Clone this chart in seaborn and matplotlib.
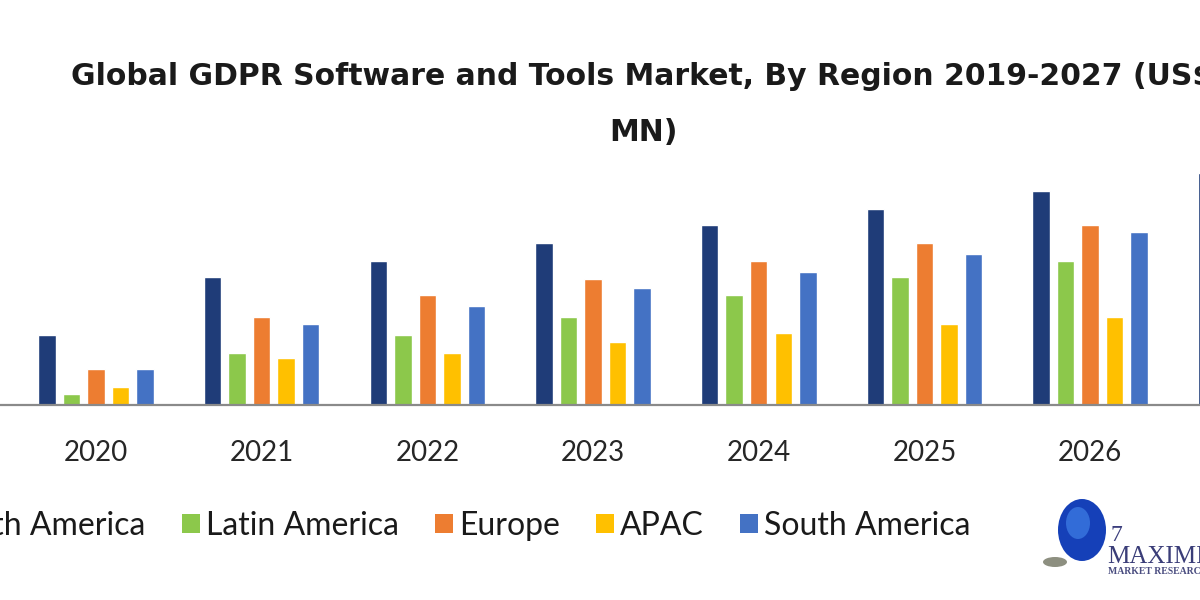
import numpy as np
import pandas as pd
import matplotlib
matplotlib.use("Agg")
import matplotlib.pyplot as plt
from matplotlib.patches import Ellipse, Rectangle
import seaborn as sns

# ---- data (relative units, no axis shown) ----
years = ["2020", "2021", "2022", "2023", "2024", "2025", "2026", "2027"]
regions = ["North America", "Latin America", "Europe", "APAC", "South America"]
north_america = [3.9, 7.1, 8.0, 9.0, 10.0, 10.9, 11.9, 12.9]
latin_america = [0.6, 2.9, 3.9, 4.9, 6.1, 7.1, 8.0, 9.0]
europe = [2.0, 4.9, 6.1, 7.0, 8.0, 9.0, 10.0, 10.9]
apac = [1.0, 2.6, 2.9, 3.5, 4.0, 4.5, 4.9, 5.4]
south_america = [2.0, 4.5, 5.5, 6.5, 7.4, 8.4, 9.6, 10.6]
colors = ["#1f3c78", "#8cc84b", "#ed7d31", "#ffc000", "#4472c4"]

series = [north_america, latin_america, europe, apac, south_america]
df = pd.DataFrame({
    "Year": [y for _ in regions for y in years],
    "Region": [r for r in regions for _ in years],
    "Value": [v for s in series for v in s],
})

sns.set_theme(style="white")
plt.rcParams["font.family"] = ["Lato", "DejaVu Sans"]

fig = plt.figure(figsize=(12, 6), dpi=100)
fig.patch.set_facecolor("white")
ax = fig.add_axes([0.0, 0.325, 1.0, 0.42])

sns.barplot(data=df, x="Year", y="Value", hue="Region", hue_order=regions,
            order=years, palette=colors, saturation=1, width=0.74, gap=0.287,
            legend=False, ax=ax)

ax.set_xlim(-0.579, 6.663)
ax.set_ylim(0, 14)
ax.set_yticks([])
ax.set_xlabel("")
ax.set_ylabel("")
for s in ["top", "right", "left"]:
    ax.spines[s].set_visible(False)
ax.spines["bottom"].set_color("#8a8a8a")
ax.spines["bottom"].set_linewidth(1.6)
ax.tick_params(axis="x", length=0, pad=25, labelsize=20, labelcolor="#262626")
ax.set_facecolor("white")

# ---- title (two lines, cut at the right edge as in the reference) ----
title_font = ["DejaVu Sans"]
fig.text(642 / 1200, 1 - 85 / 600,
         "Global GDPR Software and Tools Market, By Region 2019-2027 (US$",
         ha="center", va="baseline", fontsize=21.5, fontweight="bold",
         family=title_font, color="#1a1a1a")
fig.text(643 / 1200, 1 - 141 / 600, "MN)",
         ha="center", va="baseline", fontsize=21.5, fontweight="bold",
         family=title_font, color="#1a1a1a")

# ---- legend ----
handles = [Rectangle((0, 0), 1, 1, facecolor=c, edgecolor="none") for c in colors]
fig.legend(handles, regions, loc="center left",
           bbox_to_anchor=(-86 / 1200, 1 - 526 / 600), ncol=5, frameon=False,
           fontsize=23, handlelength=0.565, handleheight=0.565,
           handletextpad=0.19, columnspacing=1.13, borderpad=0,
           borderaxespad=0, labelcolor="#1a1a1a")

# ---- logo (decorative) ----
def fx(px):
    return px / 1200

def fy(py):
    return 1 - py / 600

fig.add_artist(Ellipse((fx(1055), fy(562)), 24 / 1200, 10 / 600,
                       facecolor="#8d8f80", edgecolor="none",
                       transform=fig.transFigure))
fig.add_artist(Ellipse((fx(1082), fy(530)), 48 / 1200, 62 / 600,
                       facecolor="#1540b8", edgecolor="none",
                       transform=fig.transFigure))
fig.add_artist(Ellipse((fx(1078), fy(523)), 24 / 1200, 32 / 600,
                       facecolor="#3f7fe6", edgecolor="none", alpha=0.7,
                       transform=fig.transFigure))
fig.text(fx(1111), fy(541), "7", fontsize=17, color="#3b3e7d",
         family=["Liberation Serif", "DejaVu Serif"], ha="left", va="baseline")
fig.text(fx(1107), fy(563), "MAXIMIZE", fontsize=18, color="#3a3d78",
         family=["Liberation Serif", "DejaVu Serif"], ha="left", va="baseline")
fig.text(fx(1108), fy(574), "MARKET RESEARCH", fontsize=7, fontweight="bold",
         color="#4a4d80", family=["Liberation Serif", "DejaVu Serif"],
         ha="left", va="baseline")

fig.savefig("out.png", dpi=100)
